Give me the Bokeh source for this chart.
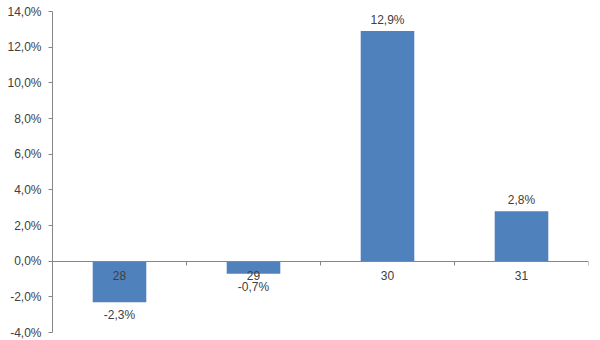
from bokeh.plotting import figure
from bokeh.models import ColumnDataSource, FixedTicker, CustomJSTickFormatter, Range1d
from bokeh.core.properties import value
from bokeh.embed import file_html
from bokeh.resources import INLINE

categories = ["28", "29", "30", "31"]
values = [-2.3, -0.7, 12.9, 2.8]
y_ticks = [-4, -2, 0, 2, 4, 6, 8, 10, 12, 14]

FONT = "Liberation Sans"
TXT = "#404040"
AX = "#868686"
BAR = "#4F81BD"

xs = [i + 0.5 for i in range(len(categories))]
fmt = lambda v: ("%.1f" % v).replace(".", ",") + "%"
pos = [i for i, v in enumerate(values) if v >= 0]
neg = [i for i, v in enumerate(values) if v < 0]

src = ColumnDataSource(dict(x=xs, v=values, cat=categories, lab=[fmt(v) for v in values]))
src_pos = ColumnDataSource(dict(x=[xs[i] for i in pos], v=[values[i] for i in pos],
                                lab=[fmt(values[i]) for i in pos]))
src_neg = ColumnDataSource(dict(x=[xs[i] for i in neg], v=[values[i] for i in neg],
                                lab=[fmt(values[i]) for i in neg]))
src_cat = ColumnDataSource(dict(x=xs, y=[0] * len(xs), cat=categories))

p = figure(width=600, height=340, output_backend="svg", toolbar_location=None,
           x_range=Range1d(0, len(categories)), y_range=Range1d(y_ticks[0], y_ticks[-1]))
p.min_border_left = 52
p.min_border_right = 12
p.min_border_top = 11
p.min_border_bottom = 8
p.outline_line_color = None
p.grid.visible = False
p.background_fill_color = "white"
p.border_fill_color = "white"

p.vbar(x="x", top="v", bottom=0, width=0.4, source=src, fill_color=BAR, line_color=None)

# y axis
ya = p.yaxis[0]
ya.ticker = FixedTicker(ticks=y_ticks)
ya.formatter = CustomJSTickFormatter(code="return tick.toFixed(1).replace('.', ',') + '%';")
ya.axis_line_color = AX
ya.major_tick_line_color = AX
ya.major_tick_out = 4
ya.major_tick_in = 0
ya.minor_tick_line_color = None
ya.major_label_text_font = FONT
ya.major_label_text_font_size = "12px"
ya.major_label_text_color = TXT
ya.major_label_standoff = 7

# x axis at zero
xa = p.xaxis[0]
xa.fixed_location = 0
xa.ticker = FixedTicker(ticks=list(range(len(categories) + 1)))
xa.axis_line_color = AX
xa.major_tick_line_color = AX
xa.major_tick_out = 4
xa.major_tick_in = 0
xa.minor_tick_line_color = None
xa.major_label_text_font_size = "0px"
xa.major_label_text_alpha = 0

# category labels
p.text(x="x", y="y", text="cat", source=src_cat, text_font=value(FONT), text_font_size="12px",
       text_color=TXT, text_align="center", text_baseline="top", y_offset=10)

# value labels
p.text(x="x", y="v", text="lab", source=src_pos, text_font=value(FONT), text_font_size="12px",
       text_color=TXT, text_align="center", text_baseline="bottom", y_offset=-4)
p.text(x="x", y="v", text="lab", source=src_neg, text_font=value(FONT), text_font_size="12px",
       text_color=TXT, text_align="center", text_baseline="top", y_offset=6)

open("out.html", "w").write(file_html(p, INLINE))
